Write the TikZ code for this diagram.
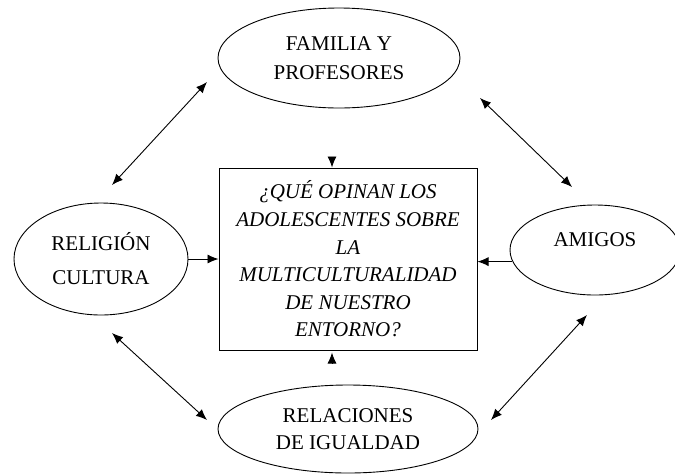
\documentclass[tikz,border=0pt]{standalone}
\usepackage{fontspec}
\setmainfont{Liberation Serif}
\usetikzlibrary{arrows.meta, shapes.geometric}

\tikzset{
  oval/.style={draw, ellipse, line width=0.9pt, inner sep=0pt, align=center,
    font=\fontsize{21}{29}\selectfont},
  pregbox/.style={draw, rectangle, line width=1pt, inner sep=0pt, align=center,
    font=\fontsize{21}{27.6}\selectfont\itshape},
  arr/.style={line width=0.9pt, -{Latex[length=11pt, width=9pt]}},
  darr/.style={line width=0.9pt, {Latex[length=11pt, width=9pt]}-{Latex[length=11pt, width=9pt]}}
}

\begin{document}
\begin{tikzpicture}[x=1pt, y=-1pt]
\useasboundingbox (0, 0) rectangle (675, 475);
%Nodes
\node [pregbox, minimum width=258, minimum height=182] (pregunta) at (348, 259)
  {¿QUÉ OPINAN LOS\\ADOLESCENTES SOBRE\\LA\\MULTICULTURALIDAD\\DE NUESTRO\\ENTORNO?};
\node [oval, minimum width=242, minimum height=100] (familia) at (339, 58) {FAMILIA Y\\PROFESORES};
\node [oval, minimum width=174, minimum height=112, font=\fontsize{21}{34}\selectfont] (religion) at (101, 259) {RELIGIÓN\\CULTURA};
\node [oval, minimum width=170, minimum height=90, text depth=20pt] (amigos) at (595, 250) {AMIGOS};
\node [oval, minimum width=260, minimum height=88, font=\fontsize{21}{27}\selectfont] (relaciones) at (348, 429) {RELACIONES\\DE IGUALDAD};
%Arrows into the box
\coordinate (qtop) at (332, 157);
\coordinate (qbot) at (332, 363);
\draw [arr] (qtop) -- (qtop |- pregunta.north);
\draw [arr] (qbot) -- ([yshift=-2pt]qbot |- pregunta.south);
\draw [arr] (religion.east) -- (religion.east -| pregunta.west);
\draw [arr] (amigos.188) -- (amigos.188 -| pregunta.east);
%Diagonal links
\coordinate (tl1) at (112, 185);
\coordinate (tl2) at (207, 82);
\coordinate (tr1) at (480, 98);
\coordinate (tr2) at (572, 187);
\coordinate (bl1) at (112, 333);
\coordinate (bl2) at (207, 420);
\coordinate (br1) at (587, 315);
\coordinate (br2) at (491, 420);
\draw [darr] (tl1) -- (tl2);
\draw [darr] (tr1) -- (tr2);
\draw [darr] (bl1) -- (bl2);
\draw [darr] (br1) -- (br2);
\end{tikzpicture}
\end{document}
